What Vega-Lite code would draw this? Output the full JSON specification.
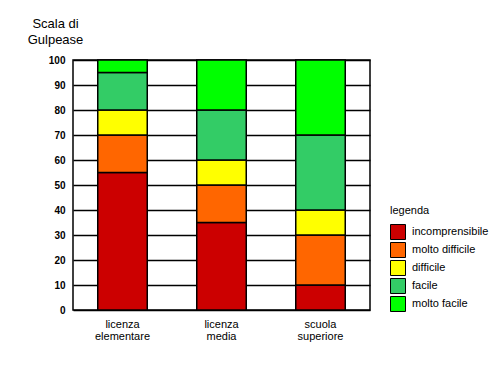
{
  "$schema": "https://vega.github.io/schema/vega-lite/v6.json",
  "width": 297,
  "height": 250,
  "autosize": "none",
  "padding": {"left": 73, "top": 60, "right": 130, "bottom": 60},
  "background": "white",
  "data": {
    "values": [
      {"livello": "licenza elementare", "categoria": "incomprensibile", "valore": 55, "ordine": 1},
      {"livello": "licenza elementare", "categoria": "molto difficile", "valore": 15, "ordine": 2},
      {"livello": "licenza elementare", "categoria": "difficile", "valore": 10, "ordine": 3},
      {"livello": "licenza elementare", "categoria": "facile", "valore": 15, "ordine": 4},
      {"livello": "licenza elementare", "categoria": "molto facile", "valore": 5, "ordine": 5},
      {"livello": "licenza media", "categoria": "incomprensibile", "valore": 35, "ordine": 1},
      {"livello": "licenza media", "categoria": "molto difficile", "valore": 15, "ordine": 2},
      {"livello": "licenza media", "categoria": "difficile", "valore": 10, "ordine": 3},
      {"livello": "licenza media", "categoria": "facile", "valore": 20, "ordine": 4},
      {"livello": "licenza media", "categoria": "molto facile", "valore": 20, "ordine": 5},
      {"livello": "scuola superiore", "categoria": "incomprensibile", "valore": 10, "ordine": 1},
      {"livello": "scuola superiore", "categoria": "molto difficile", "valore": 20, "ordine": 2},
      {"livello": "scuola superiore", "categoria": "difficile", "valore": 10, "ordine": 3},
      {"livello": "scuola superiore", "categoria": "facile", "valore": 30, "ordine": 4},
      {"livello": "scuola superiore", "categoria": "molto facile", "valore": 30, "ordine": 5}
    ]
  },
  "config": {
    "font": "Liberation Sans",
    "view": {"stroke": "black", "strokeWidth": 1.5}
  },
  "mark": {"type": "bar", "stroke": "black", "strokeWidth": 1.5},
  "encoding": {
    "x": {
      "field": "livello",
      "type": "nominal",
      "sort": null,
      "scale": {"paddingInner": 0.5, "paddingOuter": 0.25},
      "axis": {
        "title": null,
        "labelAngle": 0,
        "labelExpr": "split(datum.label, ' ')",
        "labelFontSize": 11,
        "labelColor": "black",
        "labelPadding": 8,
        "labelLineHeight": 12,
        "ticks": false,
        "domain": false
      }
    },
    "y": {
      "field": "valore",
      "type": "quantitative",
      "stack": "zero",
      "scale": {"domain": [0, 100], "nice": false},
      "axis": {
        "values": [0, 10, 20, 30, 40, 50, 60, 70, 80, 90, 100],
        "title": ["Scala di", "Gulpease"],
        "titleAngle": 0,
        "titleAlign": "center",
        "titleBaseline": "alphabetic",
        "titleX": -18,
        "titleY": -33,
        "titleFontSize": 13,
        "titleFontWeight": "normal",
        "titleColor": "black",
        "titleLineHeight": 16,
        "labelFontSize": 10,
        "labelFontWeight": "bold",
        "labelColor": "black",
        "labelPadding": 8,
        "ticks": false,
        "domain": false,
        "grid": true,
        "gridColor": "black",
        "gridOpacity": 1,
        "gridWidth": 1.5
      }
    },
    "color": {
      "field": "categoria",
      "type": "nominal",
      "scale": {
        "domain": ["incomprensibile", "molto difficile", "difficile", "facile", "molto facile"],
        "range": ["#CC0000", "#FF6600", "#FFFF00", "#33CC66", "#00FF00"]
      },
      "legend": {
        "title": "legenda",
        "orient": "none",
        "legendX": 317,
        "legendY": 145,
        "titleFontSize": 11,
        "titleFontWeight": "normal",
        "titleColor": "black",
        "titlePadding": 8,
        "labelFontSize": 11,
        "labelColor": "black",
        "symbolType": "square",
        "symbolSize": 225,
        "symbolStrokeColor": "black",
        "symbolStrokeWidth": 1,
        "symbolOpacity": 1,
        "rowPadding": -2,
        "labelOffset": 6
      }
    },
    "order": {"field": "ordine", "type": "quantitative"}
  }
}
